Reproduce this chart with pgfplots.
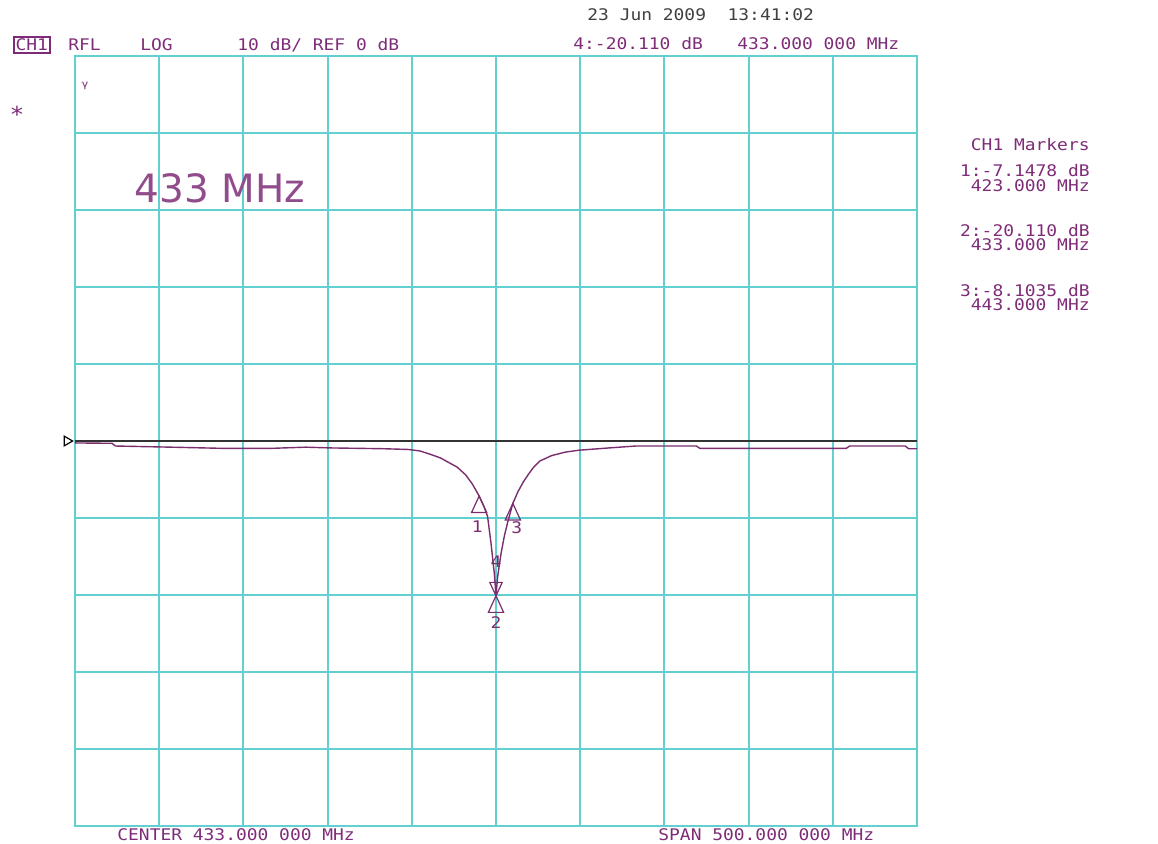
\documentclass[border=0pt]{standalone}
\usepackage{pgfplots}
\pgfplotsset{compat=1.18}
\usepackage{fontspec}
\setmainfont{DejaVu Sans}
\newfontfamily\mono[FakeStretch=1.12]{DejaVu Sans Mono}
\definecolor{gridc}{HTML}{62D0D0}
\definecolor{trace}{HTML}{7A2E6E}
\definecolor{txt}{HTML}{7E2C78}
\newcommand\mf{\mono\fontsize{8}{9}\selectfont}
\begin{document}
\begin{tikzpicture}[x=0.5pt,y=0.5pt]
\path[use as bounding box] (0,0) rectangle (1158,843);
\begin{axis}[
  at={(37.5pt,8.5pt)}, anchor=south west,
  scale only axis, width=421pt, height=385pt,
  xmin=183, xmax=683, ymin=-50, ymax=50,
  xtick={183,233,...,683}, ytick={-50,-40,...,50},
  xticklabels={}, yticklabels={},
  major tick length=0pt,
  grid=major,
  grid style={gridc, line width=1pt},
  axis line style={gridc, line width=1pt},
  clip=false,
]
% reference line
\addplot[color=black!80, line width=1pt] coordinates {(183,0) (683,0)};
% trace
\addplot[color=trace, line width=0.7pt] coordinates {
(183,-0.25) (205,-0.3) (207,-0.65) (240,-0.8) (270,-0.95) (300,-0.95)
(320,-0.8) (335,-0.9) (366,-1.0) (381,-1.1) (388,-1.3) (395,-1.8)
(400,-2.2) (405,-2.8) (410,-3.4) (415,-4.4) (419,-5.6) (423,-7.1478)
(426,-8.6) (428,-9.8) (430,-13.2) (432,-17.2) (433,-20.110) (434,-17.6)
(436,-14.6) (438,-12.3) (440,-10.5) (443,-8.1035) (446,-6.6) (449,-5.4)
(452,-4.4) (455,-3.5) (459,-2.6) (466,-1.9) (474,-1.45) (482,-1.2)
(500,-0.9) (516,-0.65) (552,-0.65) (554,-0.95) (641,-0.95) (643,-0.65)
(676,-0.65) (678,-1.0) (683,-1.0)
};
% reference level arrow
\addplot[only marks, mark=triangle, mark size=2.8pt,
  mark options={draw=black, fill=white, line width=0.6pt, xshift=-4pt, rotate=-90}]
  coordinates {(183,0)};
% marker 1
\addplot[only marks, mark=triangle, mark size=5.5pt,
  mark options={draw=trace, fill=violet!8, line width=0.6pt, yshift=-5.5pt, xscale=0.8},
  nodes near coords={1},
  every node near coord/.append style={anchor=center, yshift=-10pt, xshift=-1pt, font=\mf, text=trace}]
  coordinates {(423,-7.1478)};
% marker 3
\addplot[only marks, mark=triangle, mark size=5.5pt,
  mark options={draw=trace, fill=violet!8, line width=0.6pt, yshift=-5.5pt, xscale=0.8},
  nodes near coords={3},
  every node near coord/.append style={anchor=center, yshift=-6.5pt, xshift=2pt, font=\mf, text=trace}]
  coordinates {(443,-8.1035)};
% marker 2
\addplot[only marks, mark=triangle, mark size=5.5pt,
  mark options={draw=trace, fill=violet!8, line width=0.6pt, yshift=-5.5pt, xscale=0.8},
  nodes near coords={2},
  every node near coord/.append style={anchor=center, yshift=-8pt, font=\mf, text=trace}]
  coordinates {(433,-20.110)};
% marker 4 (active)
\addplot[only marks, mark=triangle, mark size=4.5pt,
  mark options={draw=trace, fill=violet!8, line width=0.6pt, yshift=4.5pt, rotate=180, xscale=0.8},
  nodes near coords={4},
  every node near coord/.append style={anchor=center, yshift=12.5pt, font=\mf, text=trace}]
  coordinates {(433,-20.110)};
\end{axis}
% header texts
\node[draw=txt, line width=1pt, inner sep=0.8pt, anchor=west, text=txt, font=\mf] at (13,798) {CH1};
\node[anchor=west, inner sep=0, text=txt, font=\mf] at (68,798) {RFL};
\node[anchor=west, inner sep=0, text=txt, font=\mf] at (140,798) {LOG};
\node[anchor=west, inner sep=0, text=txt, font=\mf] at (237,798) {10 dB/ REF 0 dB};
\node[anchor=west, inner sep=0, text=black!75, font=\mf] at (587,828) {23 Jun 2009\ \ 13:41:02};
\node[anchor=west, inner sep=0, text=txt, font=\mf] at (573,799) {4:-20.110 dB};
\node[anchor=west, inner sep=0, text=txt, font=\mf] at (737,799) {433.000 000 MHz};
\node[anchor=center, inner sep=0, text=txt, font=\mono\fontsize{11}{12}\selectfont] at (17,729) {*};
\node[anchor=center, inner sep=0, text=trace, font=\fontsize{9}{10}\selectfont] at (85,755) {ᵞ};
\node[anchor=west, inner sep=0, text=txt!85, font=\fontsize{19.5}{22}\selectfont] at (134,655) {433\,\,MHz};
% right marker panel
\node[anchor=east, inner sep=0, text=txt, font=\mf] at (1090,698) {CH1 Markers};
\node[anchor=east, inner sep=0, text=txt, font=\mf] at (1090,672) {1:-7.1478 dB};
\node[anchor=east, inner sep=0, text=txt, font=\mf] at (1090,657) {423.000 MHz};
\node[anchor=east, inner sep=0, text=txt, font=\mf] at (1090,612) {2:-20.110 dB};
\node[anchor=east, inner sep=0, text=txt, font=\mf] at (1090,598) {433.000 MHz};
\node[anchor=east, inner sep=0, text=txt, font=\mf] at (1090,552) {3:-8.1035 dB};
\node[anchor=east, inner sep=0, text=txt, font=\mf] at (1090,538) {443.000 MHz};
% footer
\node[anchor=west, inner sep=0, text=txt, font=\mf] at (117,8) {CENTER 433.000 000 MHz};
\node[anchor=west, inner sep=0, text=txt, font=\mf] at (658,8) {SPAN 500.000 000 MHz};
\end{tikzpicture}
\end{document}
